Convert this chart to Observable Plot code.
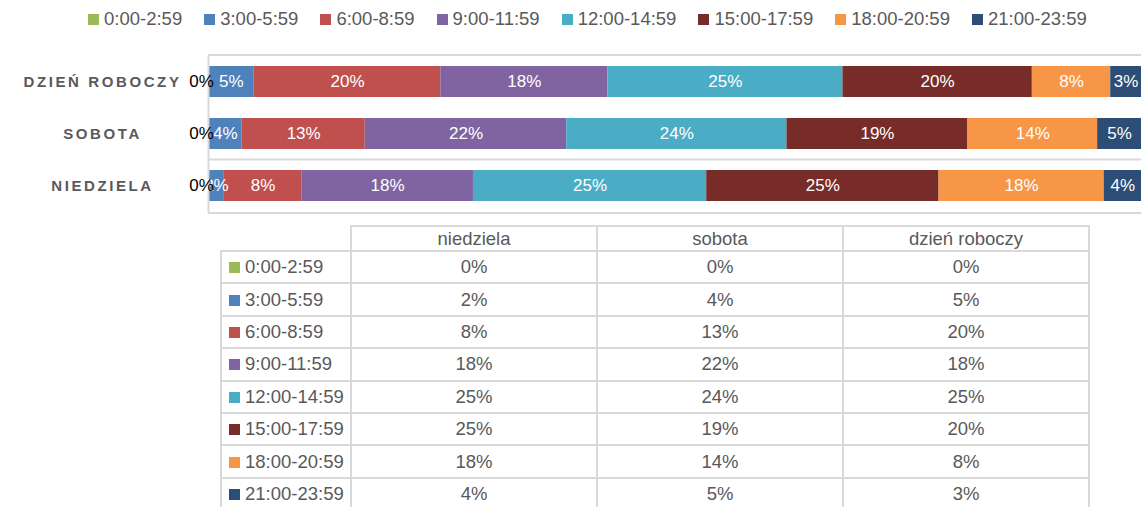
<!DOCTYPE html>
<html>
<head>
<meta charset="utf-8">
<script src="https://cdn.jsdelivr.net/npm/d3@7"></script>
<script src="https://cdn.jsdelivr.net/npm/@observablehq/plot@0.6"></script>
<style>
  body { margin: 0; background: #fff; font-family: "Liberation Sans", Arial, sans-serif; color: #595959; }
  #wrap { position: relative; width: 1141px; height: 507px; overflow: hidden; }
  #chart { position: absolute; left: 0; top: 0; z-index: 1; }
  #legend { position: absolute; left: 88px; top: 8px; display: flex; font-size: 18.5px; line-height: 22px; white-space: nowrap; z-index: 2; }
  .li { display: flex; align-items: center; margin-right: 22px; }
  .sw { width: 11px; height: 11px; margin-right: 5px; display: inline-block; }
  table { position: absolute; left: 220px; top: 225px; border-collapse: collapse; table-layout: fixed; font-size: 18.5px; color: #595959; z-index: 1; }
  td { border: 2px solid #d9d9d9; padding: 0; text-align: center; white-space: nowrap; }
  tr.head { height: 25px; }
  tr.row { height: 32.4px; }
  td.corner { border-top: none; border-left: none; }
  td.lab { text-align: left; padding-left: 7px; }
  td.lab .sw { width: 11px; height: 11px; margin-right: 5px; }
</style>
</head>
<body>
<div id="wrap">
  <div id="legend"></div>
  <div id="chart"></div>
  <table id="tbl"></table>
</div>
<script>
// ---- data ----
const periods = ["0:00-2:59", "3:00-5:59", "6:00-8:59", "9:00-11:59", "12:00-14:59", "15:00-17:59", "18:00-20:59", "21:00-23:59"];
const colors = ["#9BBB59", "#4F81BD", "#C0504D", "#8064A2", "#4BACC6", "#772C2A", "#F79646", "#2C4D75"];
const days = ["dzień roboczy", "sobota", "niedziela"];
const weekdayShares = [0, 4.9, 20.0, 17.9, 25.2, 20.3, 8.4, 3.3];
const saturdayShares = [0, 3.6, 13.2, 21.6, 23.6, 19.4, 13.9, 4.7];
const sundayShares = [0, 1.7, 8.3, 18.4, 25.0, 24.9, 17.7, 4.0];
const tableColumns = ["niedziela", "sobota", "dzień roboczy"];

const sharesByDay = {"dzień roboczy": weekdayShares, "sobota": saturdayShares, "niedziela": sundayShares};
const data = [];
days.forEach(day => periods.forEach((p, i) => data.push({day, period: p, value: sharesByDay[day][i]})));
const pct = d => Math.round(d.value) + "%";
const dayLabels = days.map(d => d.toUpperCase());

// ---- legend ----
const legend = document.getElementById("legend");
periods.forEach((p, i) => {
  const item = document.createElement("div");
  item.className = "li";
  item.innerHTML = `<span class="sw" style="background:${colors[i]}"></span><span>${p}</span>`;
  legend.appendChild(item);
});

// ---- chart ----
const chart = Plot.plot({
  width: 1141,
  height: 220,
  marginTop: 55,
  marginBottom: 7,
  marginLeft: 208,
  marginRight: 0,
  style: {background: "transparent", fontFamily: "'Liberation Sans', Arial, sans-serif", fontSize: "17px"},
  x: {domain: [0, 100], axis: null},
  y: {domain: days, axis: null, paddingInner: 0.4, paddingOuter: 0.2},
  color: {domain: periods, range: colors},
  marks: [
    Plot.barX(data, Plot.stackX({y: "day", x: "value", fill: "period"})),
    Plot.ruleX([0], {stroke: "#d9d9d9", strokeWidth: 2}),
    Plot.text(data, Plot.stackX({
      filter: d => d.period !== periods[0],
      y: "day", x: "value", z: "period", text: pct, fill: "white", fontSize: 17
    })),
    Plot.text(data, Plot.stackX({
      filter: d => d.period === periods[0],
      y: "day", x: "value", z: "period", text: pct, fill: "black", fontSize: 17, dx: -7
    })),
    Plot.text(days, {
      y: d => d, text: d => d.toUpperCase(), frameAnchor: "left", dx: -106,
      textAnchor: "middle", fontWeight: "bold", fontSize: 15, fill: "#595959"
    })
  ]
});
document.getElementById("chart").appendChild(chart);

// letter spacing for category labels
d3.select(chart).selectAll("text")
  .filter(function() { return dayLabels.includes(this.textContent); })
  .attr("letter-spacing", "2.6px");

// category gridlines (top, between sobota and niedziela, bottom) from the y scale
const ys = chart.scale("y");
const bw = ys.bandwidth;
const r = ys.range;
const mid = (ys.apply("sobota") + bw + ys.apply("niedziela")) / 2;
const gl = d3.select(chart).insert("g", ":first-child");
[r[0], mid, r[1]].forEach(y => {
  gl.append("line").attr("x1", 208).attr("x2", 1141).attr("y1", y).attr("y2", y)
    .attr("stroke", "#d9d9d9").attr("stroke-width", 2);
});

// ---- data table ----
const tbl = document.getElementById("tbl");
let html = '<colgroup><col style="width:130px"><col style="width:246px"><col style="width:246px"><col style="width:246px"></colgroup>';
html += '<tr class="head"><td class="corner"></td>' + tableColumns.map(c => `<td>${c}</td>`).join("") + '</tr>';
periods.forEach((p, i) => {
  html += `<tr class="row"><td class="lab"><span class="sw" style="background:${colors[i]}"></span>${p}</td>`;
  html += tableColumns.map(c => `<td>${Math.round(sharesByDay[c][i])}%</td>`).join("");
  html += '</tr>';
});
tbl.innerHTML = html;
</script>
</body>
</html>
